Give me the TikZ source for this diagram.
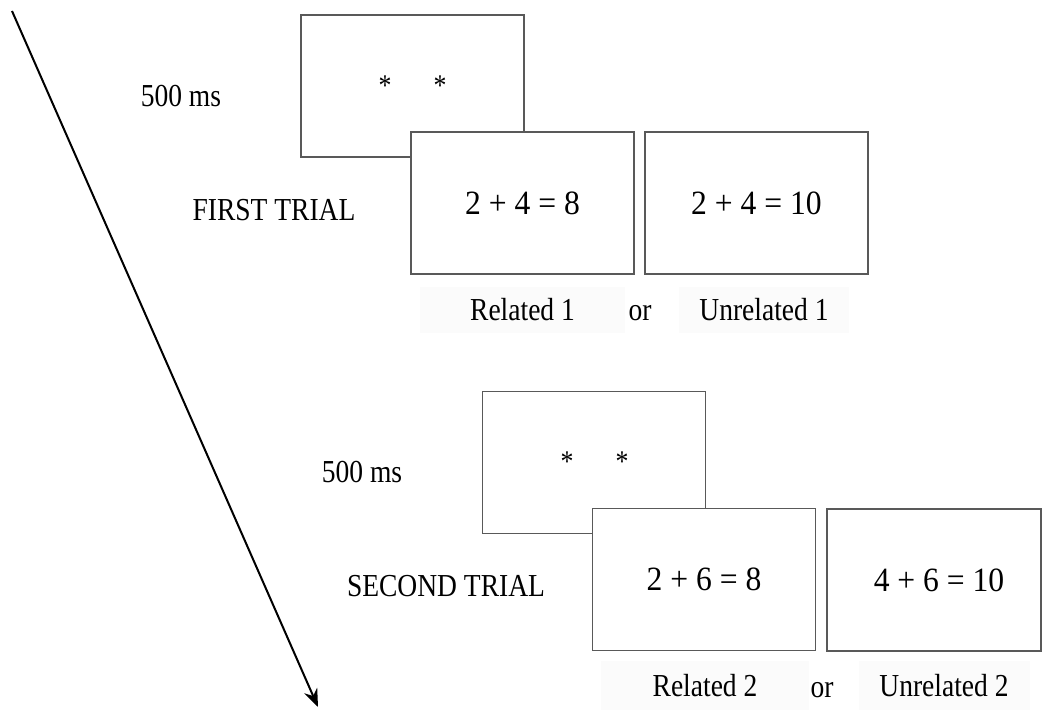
\documentclass[tikz,border=0pt]{standalone}
\usepackage{fontspec}
\setmainfont{Liberation Serif}[FakeStretch=0.86]
\newfontfamily\eqfont{Liberation Serif}[FakeStretch=0.93]
\usetikzlibrary{arrows.meta}
\tikzset{
  screen/.style={draw=black!65, line width=1.3pt, fill=white, minimum width=223pt, minimum height=142pt, inner sep=0pt, font=\eqfont\fontsize{34}{38}\selectfont},
  lbl/.style={inner sep=0pt, font=\fontsize{32}{36}\selectfont},
  cond/.style={fill=black!1.5, minimum width=205pt, minimum height=46pt, inner sep=0pt, font=\fontsize{32}{36}\selectfont},
  star/.style={inner sep=0pt, anchor=base, font=\fontsize{30}{34}\selectfont},
  timearrow/.style={line width=2pt, -{Stealth[length=18pt,width=14pt,inset=6pt]}}
}
\begin{document}
\begin{tikzpicture}[x=1pt,y=-1pt]
\useasboundingbox (0,0) rectangle (1043,709);
% time arrow
\coordinate (tstart) at (12,11);
\coordinate (tend) at (318,707);
\draw[timearrow] (tstart) -- (tend);
% first trial
\node[screen] (fixA) at (412.5,86) {};
\node[star] (sA1) at (385,95) {*};
\node[star] (sA2) at (440,95) {*};
\node[screen] (relA) at (522.5,203) {2 + 4 = 8};
\node[screen] (unrA) at (756.5,203) {2 + 4 = 10};
\node[lbl, anchor=base] (msA) at (181,106) {500 ms};
\node[lbl, anchor=base] (trA) at (274,220) {FIRST TRIAL};
\node[cond] (crA) at (522.5,310) {Related 1};
\node[lbl, anchor=base] (orA) at (640,320) {or};
\node[cond, minimum width=170pt] (cuA) at (764,310) {Unrelated 1};
% second trial
\node[screen] (fixB) at (594,462.5) {};
\node[star] (sB1) at (567,471) {*};
\node[star] (sB2) at (622,471) {*};
\node[screen] (relB) at (704,579.5) {2 + 6 = 8};
\node[screen, minimum width=214pt] (unrB) at (934,580) {\hspace{10pt}4 + 6 = 10};
\node[lbl, anchor=base] (msB) at (362,482) {500 ms};
\node[lbl, anchor=base] (trB) at (446,596) {SECOND TRIAL};
\node[cond, minimum width=208pt, minimum height=50pt] (crB) at (705,686) {Related 2};
\node[lbl, anchor=base] (orB) at (822,697) {or};
\node[cond, minimum width=171pt, minimum height=50pt] (cuB) at (944,686) {Unrelated 2};
\end{tikzpicture}
\end{document}
